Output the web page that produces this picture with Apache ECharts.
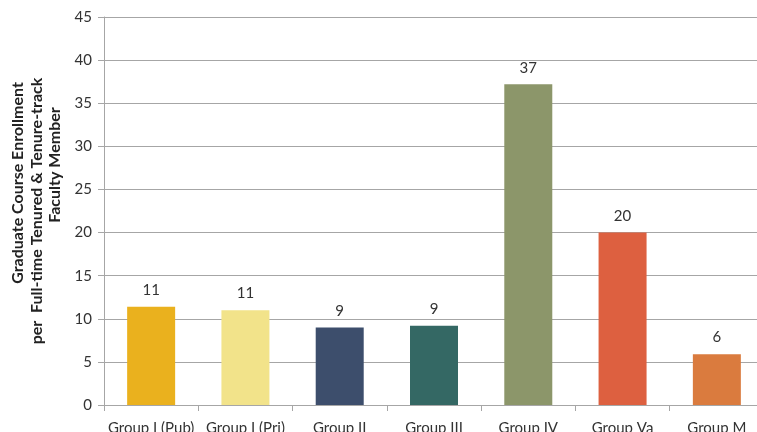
<!DOCTYPE html>
<html><head><meta charset="utf-8">
<script src="https://cdn.jsdelivr.net/npm/echarts@6/dist/echarts.min.js"></script>
<style>html,body{margin:0;padding:0;background:#fff}#c{width:757px;height:432px}</style>
</head><body><div id="c"></div>
<script>
const categories = ['Group I (Pub)', 'Group I (Pri)', 'Group II', 'Group III', 'Group IV', 'Group Va', 'Group M'];
const values = [11.4, 11.0, 9.0, 9.2, 37.2, 20.0, 5.9];
const barColors = ['#EAB11E', '#F2E38A', '#3D4E6C', '#346864', '#8C966A', '#DD6040', '#DA7B3E'];
const titleLines = ['Graduate Course Enrollment', 'per  Full-time Tenured & Tenure-track', 'Faculty Member'];

const chart = echarts.init(document.getElementById('c'));
const font = 'Lato, "Open Sans", sans-serif';
chart.setOption({
  animation: false,
  grid: { left: 104, top: 17, bottom: 27, width: 660, outerBoundsMode: 'none', containLabel: false },
  xAxis: {
    type: 'category', data: categories,
    axisLine: { lineStyle: { color: '#a6a6a6' } },
    axisTick: { show: true, length: 6, lineStyle: { color: '#a6a6a6' } },
    axisLabel: { color: '#333', fontSize: 15, fontFamily: font, margin: 16, interval: 0 }
  },
  yAxis: {
    type: 'value', min: 0, max: 45, interval: 5,
    axisLine: { show: true, lineStyle: { color: '#a6a6a6' } },
    axisTick: { show: true, length: 6, lineStyle: { color: '#a6a6a6' } },
    splitLine: { lineStyle: { color: '#a6a6a6' } },
    axisLabel: { color: '#333', fontSize: 15, fontFamily: font, margin: 12 }
  },
  series: [{
    type: 'bar', barWidth: 48,
    data: values.map((v, i) => ({ value: v, itemStyle: { color: barColors[i] } })),
    label: { show: true, position: 'top', distance: 9, color: '#333', fontSize: 15, fontFamily: font,
      formatter: p => Math.round(p.value) }
  }],
  graphic: [
    { type: 'text', x: 18, y: 183, rotation: Math.PI / 2, style: { text: titleLines[0], font: 'bold 16px ' + font, fill: '#222', textAlign: 'center', textVerticalAlign: 'middle' } },
    { type: 'text', x: 37, y: 211, rotation: Math.PI / 2, style: { text: titleLines[1], font: 'bold 16px ' + font, fill: '#222', textAlign: 'center', textVerticalAlign: 'middle' } },
    { type: 'text', x: 55, y: 165, rotation: Math.PI / 2, style: { text: titleLines[2], font: 'bold 16px ' + font, fill: '#222', textAlign: 'center', textVerticalAlign: 'middle' } }
  ]
});
</script></body></html>
